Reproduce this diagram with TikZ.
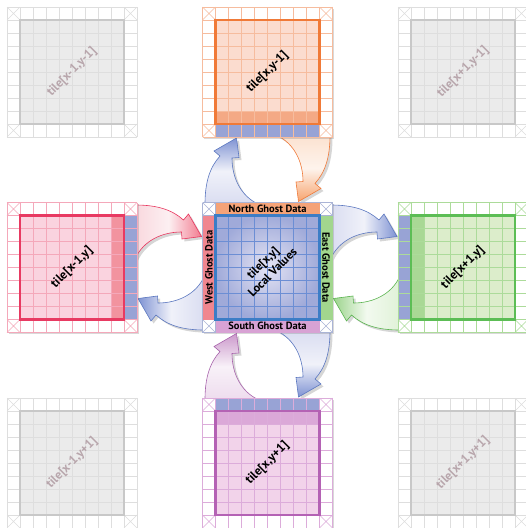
\documentclass[tikz,border=0pt]{standalone}
\usepackage{fontspec}
\setmainfont{PT Sans}
\usetikzlibrary{shadows}

\definecolor{grayFill}{HTML}{EBEBEB}
\definecolor{grayGrid}{HTML}{DEDEDE}
\definecolor{grayFrame}{HTML}{C8C8C8}
\definecolor{grayText}{HTML}{B8A6AC}
\definecolor{orFill}{HTML}{FBDCCF}
\definecolor{orDark}{HTML}{F4A985}
\definecolor{orGrid}{HTML}{F6BC9E}
\definecolor{orFrame}{HTML}{F07A38}
\definecolor{rdFill}{HTML}{FAD3DF}
\definecolor{rdDark}{HTML}{F2939F}
\definecolor{rdGrid}{HTML}{F4A8BA}
\definecolor{rdFrame}{HTML}{E83A62}
\definecolor{gnFill}{HTML}{DCEDCB}
\definecolor{gnDark}{HTML}{A9D895}
\definecolor{gnGrid}{HTML}{ACDB9A}
\definecolor{gnFrame}{HTML}{5CBD55}
\definecolor{puFill}{HTML}{F2D3EA}
\definecolor{puDark}{HTML}{DBA8D8}
\definecolor{puGrid}{HTML}{DCACDA}
\definecolor{puFrame}{HTML}{B462B4}
\definecolor{ghostBlue}{HTML}{98A3D5}
\definecolor{ctInner}{HTML}{E4E4F4}
\definecolor{ctOuter}{HTML}{A0AAD9}
\definecolor{ctGrid}{HTML}{6C8ED4}
\definecolor{ctFrame}{HTML}{3C7DC6}
\definecolor{ctCorner}{HTML}{AAB4D6}
\definecolor{bandN}{HTML}{F5A378}
\definecolor{bandW}{HTML}{F0868F}
\definecolor{bandE}{HTML}{A2D68E}
\definecolor{bandS}{HTML}{D8A2D4}
\definecolor{arBlue}{HTML}{7F93D3}
\definecolor{arBlueL}{HTML}{DADDF1}
\definecolor{arBlueB}{HTML}{5C78C0}
\definecolor{arOr}{HTML}{F7A46E}
\definecolor{arOrL}{HTML}{FCE2D0}
\definecolor{arOrB}{HTML}{F07A3A}
\definecolor{arRd}{HTML}{F27C90}
\definecolor{arRdL}{HTML}{F9D8DE}
\definecolor{arRdB}{HTML}{E8365E}
\definecolor{arGn}{HTML}{9CD48C}
\definecolor{arGnL}{HTML}{E0F2D8}
\definecolor{arGnB}{HTML}{5BB450}
\definecolor{arPu}{HTML}{CC9ACC}
\definecolor{arPuL}{HTML}{EEDCEE}
\definecolor{arPuB}{HTML}{A864AC}

\tikzset{
  tile label/.style={font=\bfseries\fontsize{12.5}{13}\selectfont, rotate=45, inner sep=0pt},
  ghost label/.style={font=\bfseries\fontsize{10.5}{11}\selectfont, inner sep=0pt},
  tile shadow/.style={drop shadow={shadow xshift=1.5pt, shadow yshift=-1.5pt, opacity=.3}},
  arrow shadow/.style={fill=black, opacity=.16},
}

% tile = 10x10 cells of 13, (#1,#2) is the top left corner
\newcommand{\tilebg}[4]{%
  \fill[white,#4] (#1,#2) rectangle ++(130,130);
  \fill[#3] (#1+13,#2+13) rectangle ++(104,104);
}
\newcommand{\tilelines}[3]{%
  \foreach \k in {0,...,10}{
    \draw[#3, line width=.45] (#1+13*\k,#2) -- ++(0,130);
    \draw[#3, line width=.45] (#1,#2+13*\k) -- ++(130,0);
  }
  \foreach \cx/\cy in {0/0,117/0,0/117,117/117}
    \draw[#3, line width=.45] (#1+\cx,#2+\cy) -- ++(13,13) (#1+\cx+13,#2+\cy) -- ++(-13,13);
}
\newcommand{\tileframe}[3]{%
  \draw[#3, line width=2.4] (#1+13,#2+13) rectangle ++(104,104);
}

% one curved arrow, drawn for the north side and turned into place
\newcommand{\arrowshape}{(205,204) .. controls (205,182) and (210,167) .. (220,156)
  -- (214,151) -- (236.5,138) -- (239,157.5) -- (232,158)
  .. controls (232,178) and (241,196) .. (258,204) -- cycle}
\newcommand{\ghostarrow}[5]{%
  \fill[arrow shadow, transform canvas={shift={(2.5,2.5)}, rotate around={#1:(267.5,267.5)}, rotate around={#2:(267.5,169.75)}}] \arrowshape;
  \draw[draw=#5, line width=.6, top color=#3, bottom color=#4, middle color=white!60!#4,
    transform canvas={rotate around={#1:(267.5,267.5)}, rotate around={#2:(267.5,169.75)}}] \arrowshape;
}

\begin{document}
\begin{tikzpicture}[x=1pt, y=-1pt]
\useasboundingbox (0,0) rectangle (526,528);

% arrows
\ghostarrow{0}{0}{arBlue}{arBlueL}{arBlueB}
\ghostarrow{0}{180}{arOr}{arOrL}{arOrB}
\ghostarrow{-90}{0}{arBlue}{arBlueL}{arBlueB}
\ghostarrow{-90}{180}{arGn}{arGnL}{arGnB}
\ghostarrow{180}{0}{arBlue}{arBlueL}{arBlueB}
\ghostarrow{180}{180}{arPu}{arPuL}{arPuB}
\ghostarrow{90}{0}{arBlue}{arBlueL}{arBlueB}
\ghostarrow{90}{180}{arRd}{arRdL}{arRdB}

% corner tiles
\tilebg{7}{7}{grayFill}{}
\tilelines{7}{7}{grayGrid}
\tileframe{7}{7}{grayFrame}
\tilebg{398}{7}{grayFill}{}
\tilelines{398}{7}{grayGrid}
\tileframe{398}{7}{grayFrame}
\tilebg{7}{398}{grayFill}{}
\tilelines{7}{398}{grayGrid}
\tileframe{7}{398}{grayFrame}
\tilebg{398}{398}{grayFill}{}
\tilelines{398}{398}{grayGrid}
\tileframe{398}{398}{grayFrame}

% north tile
\tilebg{202.5}{7}{orFill}{tile shadow}
\fill[orDark] (215.5,111) rectangle (319.5,124);
\fill[ghostBlue] (215.5,124) rectangle (319.5,137);
\tilelines{202.5}{7}{orGrid}
\tileframe{202.5}{7}{orFrame}

% west tile
\tilebg{7}{202.5}{rdFill}{tile shadow}
\fill[rdDark] (111,215.5) rectangle (124,319.5);
\fill[ghostBlue] (124,215.5) rectangle (137,319.5);
\tilelines{7}{202.5}{rdGrid}
\tileframe{7}{202.5}{rdFrame}

% east tile
\tilebg{398}{202.5}{gnFill}{tile shadow}
\fill[ghostBlue] (398,215.5) rectangle (411,319.5);
\fill[gnDark] (411,215.5) rectangle (424,319.5);
\tilelines{398}{202.5}{gnGrid}
\tileframe{398}{202.5}{gnFrame}

% south tile
\tilebg{202.5}{398}{puFill}{tile shadow}
\fill[ghostBlue] (215.5,398) rectangle (319.5,411);
\fill[puDark] (215.5,411) rectangle (319.5,424);
\tilelines{202.5}{398}{puGrid}
\tileframe{202.5}{398}{puFrame}

% centre tile
\fill[white, tile shadow] (202.5,202.5) rectangle ++(130,130);
\fill[inner color=ctInner, outer color=ctOuter] (215.5,215.5) rectangle (319.5,319.5);
\tilelines{202.5}{202.5}{ctCorner}
\foreach \k in {1,...,9}{
  \draw[ctGrid, line width=.6] (202.5+13*\k,215.5) -- (202.5+13*\k,319.5);
  \draw[ctGrid, line width=.6] (215.5,202.5+13*\k) -- (319.5,202.5+13*\k);
}
\fill[bandN] (215.5,202.5) rectangle (319.5,215.5);
\fill[bandW] (202.5,215.5) rectangle (215.5,319.5);
\fill[bandE] (319.5,215.5) rectangle (332.5,319.5);
\fill[bandS] (215.5,319.5) rectangle (319.5,332.5);
\tileframe{202.5}{202.5}{ctFrame}

% labels
\node[tile label, text=grayText] (tNW) at (72,72) {tile[x-1,y-1]};
\node[tile label, text=grayText] (tNE) at (463,72) {tile[x+1,y-1]};
\node[tile label, text=grayText] (tSW) at (72,463) {tile[x-1,y+1]};
\node[tile label, text=grayText] (tSE) at (463,463) {tile[x+1,y+1]};

\node[tile label] (tN) at (267.5,72) {tile[x,y-1]};
\node[tile label] (tW) at (72,267.5) {tile[x-1,y]};
\node[tile label] (tE) at (463,267.5) {tile[x+1,y]};
\node[tile label] (tS) at (267.5,463) {tile[x,y+1]};
\node[tile label, align=center, font=\bfseries\fontsize{12}{13.5}\selectfont] (tC) at (267.5,267.5) {tile[x,y]\\Local Values};

\node[ghost label] (gN) at (267.5,209) {North Ghost Data};
\node[ghost label] (gS) at (267.5,326) {South Ghost Data};
\node[ghost label, rotate=90] (gW) at (209,267.5) {West Ghost Data};
\node[ghost label, rotate=-90] (gE) at (326,267.5) {East Ghost Data};
\end{tikzpicture}
\end{document}
